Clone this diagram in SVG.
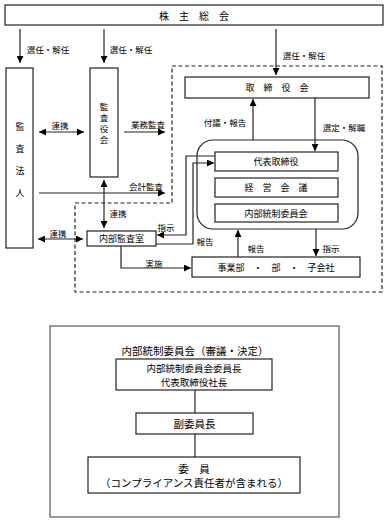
<svg xmlns="http://www.w3.org/2000/svg" width="387" height="522" viewBox="0 0 387 522">
<defs>
<marker id="arr" markerUnits="userSpaceOnUse" markerWidth="8" markerHeight="7" refX="7" refY="3.5" orient="auto-start-reverse"><path d="M0,0 L7,3.5 L0,7 z" fill="#000"/></marker>
<style>
text{font-family:"Noto Sans CJK JP","Noto Sans CJK SC",sans-serif;fill:#000;text-anchor:middle;dominant-baseline:central}
.box{fill:#fff;stroke:#222;stroke-width:1.2}
.lbl{font-size:8.5px}
.bt{font-size:9px}
.vt{font-size:8.5px}
.big{font-size:10.5px}
.mid{font-size:9.5px}
.ln{fill:none;stroke:#222;stroke-width:1.2}
.ar{fill:none;stroke:#222;stroke-width:1.2;marker-end:url(#arr)}
.dar{fill:none;stroke:#222;stroke-width:1.2;marker-end:url(#arr);marker-start:url(#arr)}
.dash{fill:none;stroke:#222;stroke-width:1.2;stroke-dasharray:4 2.5}
</style>
</defs>
<rect width="387" height="522" fill="#fff"/>
<g id="frame">
<polygon class="dash" points="172,66 382,66 382,292 75,292 75,203 172,203"/>
</g>
<g id="kabunushi"><rect class="box" x="5" y="5" width="378" height="20"/><text x="194" y="15" font-size="10">株　主　総　会</text></g>
<g id="kansahojin"><rect class="box" x="6" y="68" width="27" height="180"/>
<text x="20" y="126" class="bt">監</text><text x="20" y="148" class="bt">査</text><text x="20" y="170" class="bt">法</text><text x="20" y="192" class="bt">人</text></g>
<g id="kansayakukai"><rect class="box" x="90" y="68" width="28" height="109"/>
<text x="104" y="106" class="vt">監</text><text x="104" y="117" class="vt">査</text><text x="104" y="128" class="vt">役</text><text x="104" y="139" class="vt">会</text></g>
<g id="torishimariyakukai"><rect class="box" x="185" y="77" width="184" height="21"/><text x="277" y="87.5" class="bt">取　締　役　会</text></g>
<g id="keiei"><rect class="box" x="197" y="140" width="161" height="89" rx="16"/></g>
<g id="daihyo"><rect class="box" x="215" y="152" width="123" height="19"/><text x="276" y="161.5" class="bt">代表取締役</text></g>
<g id="keieikaigi"><rect class="box" x="215" y="178" width="123" height="19"/><text x="276" y="187.5" class="bt">経　営　会　議</text></g>
<g id="naibutosei"><rect class="box" x="215" y="204" width="123" height="18"/><text x="276" y="213" class="bt">内部統制委員会</text></g>
<g id="naibukansa"><rect class="box" x="87" y="231" width="69" height="15"/><text x="121.5" y="238.5" class="bt">内部監査室</text></g>
<g id="jigyobu"><rect class="box" x="192" y="257" width="168" height="20"/><text x="276" y="267" class="bt">事業部　・　部　・　子会社</text></g>
<g id="connectors">
<path class="ar" d="M20,29 V63"/>
<path class="ar" d="M104,29 V63"/>
<path class="ar" d="M276,29 V75"/>
<path class="dar" d="M39,132 H84"/>
<path class="ar" d="M124,132 H165"/>
<path class="ar" d="M39,193 H165"/>
<path class="dar" d="M104,180 V228"/>
<path class="dar" d="M38,239 H83"/>
<path class="ar" d="M215,156 H186 V235 H157"/>
<path class="ar" d="M156,244 H193 V163 H214"/>
<path class="ar" d="M121,246 V268 H191"/>
<path class="ar" d="M253,140 V99"/>
<path class="ar" d="M315,98 V151"/>
<path class="ar" d="M238,257 V230"/>
<path class="ar" d="M316,229 V256"/>
</g>
<g id="labels">
<text x="48" y="49" class="lbl">選任・解任</text>
<text x="131" y="49" class="lbl">選任・解任</text>
<text x="304" y="55" class="lbl">選任・解任</text>
<text x="60" y="125" class="lbl">連携</text>
<text x="148" y="124" class="lbl">業務監査</text>
<text x="146" y="186" class="lbl">会計監査</text>
<text x="118" y="213" class="lbl">連携</text>
<text x="58" y="233" class="lbl">連携</text>
<text x="166" y="227" class="lbl">指示</text>
<text x="205" y="241" class="lbl">報告</text>
<text x="154" y="263" class="lbl">実施</text>
<text x="225" y="122" class="lbl">付議・報告</text>
<text x="344" y="127" class="lbl">選定・解職</text>
<text x="256" y="248" class="lbl">報告</text>
<text x="331" y="248" class="lbl">指示</text>
</g>
<g id="committee">
<rect x="50" y="326" width="289" height="191" fill="#fff" stroke="#555" stroke-width="1.2"/>
<text x="195" y="350" class="big">内部統制委員会（審議・決定）</text>
</g>
<g id="chair"><rect class="box" x="116" y="359" width="156" height="31"/><text x="194" y="367.5" class="mid">内部統制委員会委員長</text><text x="194" y="381.5" class="mid">代表取締役社長</text></g>
<g id="vicechair"><rect class="box" x="136" y="413" width="117" height="21"/><text x="194.5" y="423.5" class="big">副委員長</text></g>
<g id="members"><rect class="box" x="88" y="457" width="212" height="36"/><text x="194" y="468.5" class="big">委　員</text><text x="194" y="482" class="big">（コンプライアンス責任者が含まれる）</text></g>
<g id="committee-lines">
<path class="ln" d="M195,390 V413"/>
<path class="ln" d="M195,434 V457"/>
</g>
</svg>
